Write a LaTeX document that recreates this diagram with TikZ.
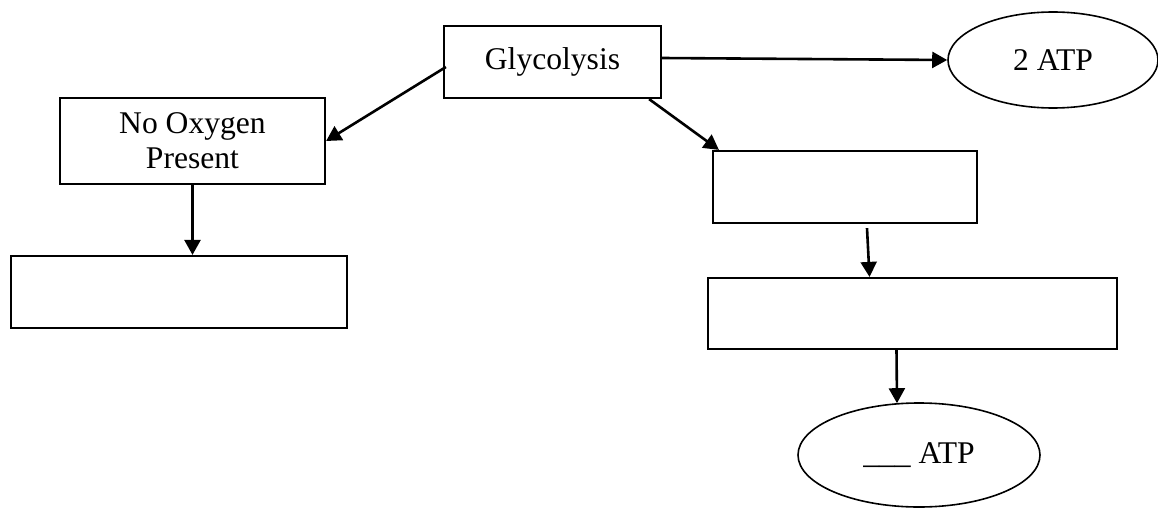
\documentclass[tikz,border=0pt]{standalone}
\usepackage{fontspec}
\setmainfont{Liberation Serif}
\usetikzlibrary{shapes.geometric,arrows.meta,calc}
\begin{document}
\begin{tikzpicture}[x=1pt,y=-1pt,
  every node/.style={font=\fontsize{31.6}{35}\selectfont, inner sep=0pt, align=center},
  boxnode/.style={draw, line width=2.2pt, rectangle},
  ellnode/.style={draw, line width=1.6pt, ellipse},
  arr/.style={line width=2.6pt, -{Triangle[length=15pt,width=16pt]}}]
\useasboundingbox (0,0) rectangle (1158,508);
\node[boxnode, minimum width=217pt, minimum height=72pt] (glyc) at (552.5,62) {Glycolysis};
\node[ellnode, minimum width=210pt, minimum height=96pt] (atp2) at (1053,60) {2 ATP};
\node[boxnode, minimum width=265pt, minimum height=86pt] (noox) at (192.5,141) {No Oxygen\\Present};
\node[boxnode, minimum width=336pt, minimum height=72pt] (lbox) at (179,292) {};
\node[boxnode, minimum width=264pt, minimum height=72pt] (box1) at (845,187) {};
\node[boxnode, minimum width=409pt, minimum height=71pt] (box2) at (912.5,313.5) {};
\node[ellnode, minimum width=242pt, minimum height=104pt] (atpx) at (919,455) {\_\_\_ ATP};
\draw[arr] ($(glyc.east)+(0,-4)$) -- (atp2.west);
\draw[arr] ($(glyc.west)+(3,5)$) -- (noox.east);
\draw[arr] ($(glyc.south east)+(-13,0)$) -- ($(box1.north west)+(7,0)$);
\draw[arr] (noox.south) -- (noox.south |- lbox.north);
\draw[arr] ($(box1.south)+(22,4)$) -- ($(box2.north)+(-43,0)$);
\draw[arr] ($(box2.south)+(-16,0)$) -- ($(atpx.north)+(-22,1)$);
\end{tikzpicture}
\end{document}
